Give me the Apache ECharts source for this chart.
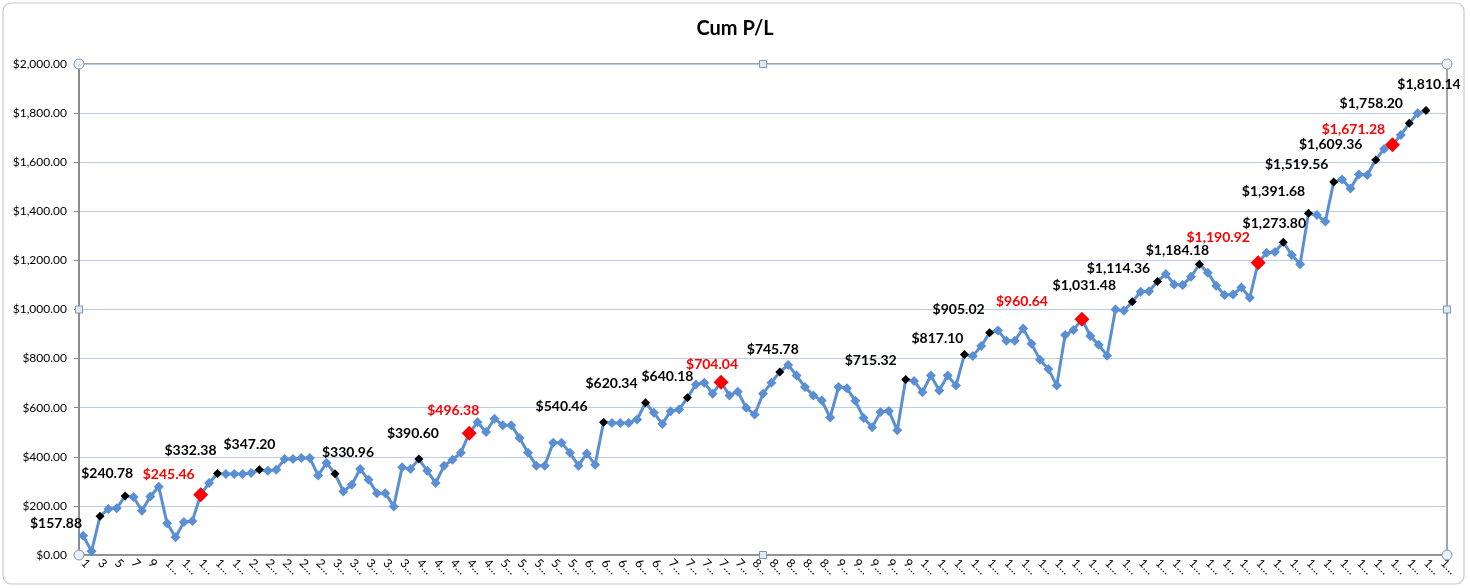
<!DOCTYPE html>
<html>
<head>
<meta charset="utf-8">
<title>Cum P/L</title>
<script src="https://cdn.jsdelivr.net/npm/echarts@6/dist/echarts.min.js"></script>
<style>
  html, body { margin: 0; padding: 0; background: #fff; }
  #chart { width: 1470px; height: 588px; }
</style>
</head>
<body>
<div id="chart"></div>
<script>
// trade numbers on the x axis (163 slots, 161 trades filled)
var categories = Array.from({ length: 163 }, function (_, i) { return String(i + 1); });

// cumulative P/L after each trade
var cumPL = [
  78, 15, 157.88, 187, 190, 240.78, 236, 180, 238, 278,
  129, 72, 134, 138, 245.46, 293, 332.38, 330, 330, 330,
  334, 347.20, 343, 347, 391, 391, 395, 395, 324, 375,
  330.96, 259, 286, 350, 307, 252, 252, 198, 357, 350,
  390.60, 343, 293, 364, 388, 416, 496.38, 541, 501, 555,
  529, 529, 477, 416, 364, 364, 457, 457, 416, 364,
  413, 368, 540.46, 538, 538, 538, 552, 620.34, 579, 534,
  586, 593, 640.18, 695, 702, 657, 704.04, 650, 665, 600,
  572, 657, 702, 745.78, 774, 731, 684, 650, 629, 560,
  684, 679, 628, 558, 520, 582, 587, 508, 715.32, 709,
  663, 731, 670, 731, 690, 817.10, 811, 851, 905.02, 914,
  873, 873, 923, 860, 795, 758, 690, 896, 916, 960.64,
  892, 856, 812, 1000, 995, 1031.48, 1072, 1074, 1114.36, 1145,
  1102, 1100, 1133, 1184.18, 1150, 1097, 1059, 1061, 1090, 1048,
  1190.92, 1231, 1234, 1273.80, 1222, 1184, 1391.68, 1385, 1358, 1519.56,
  1530, 1493, 1550, 1548, 1609.36, 1654, 1671.28, 1711, 1758.20, 1799,
  1810.14
];

// trades marked with a small black diamond and a black value label
var markedTrades = [3, 6, 17, 22, 31, 41, 63, 68, 73, 84, 99, 106, 109, 126, 129, 134, 144, 147, 150, 155, 159, 161];
// trades marked with a big red diamond and a red value label
var redTrades = [15, 47, 77, 120, 141, 157];

// where each value label centre sits relative to its marker (px)
var labelOffsets = {
  3: [-44, 7], 6: [-18, -22], 15: [-32, -20], 17: [-27, -23], 22: [-10, -25],
  31: [13, -21], 41: [-6, -26], 47: [-16, -23], 63: [-42, -16], 68: [-34, -19],
  73: [-20, -21], 77: [-9, -18], 84: [-7, -22], 99: [-35, -19], 106: [-27, -16],
  109: [-31, -23], 120: [-60, -18], 126: [-48, -16], 129: [-39, -13], 134: [-22, -14],
  141: [-40, -25], 144: [-9, -19], 147: [-35, -22], 150: [-37, -17], 155: [-45, -15],
  157: [-39, -15], 159: [-38, -20], 161: [3, -26]
};

var lineColor = '#5A8FD4';
var axisGrey = '#868686';
var handleGrey = '#8497B0';

function money(v) {
  return '$' + Number(v).toLocaleString('en-US', { minimumFractionDigits: 2, maximumFractionDigits: 2 });
}

function buildPoints() {
  return cumPL.map(function (v, i) {
    var trade = i + 1;
    var isRed = redTrades.indexOf(trade) >= 0;
    var isBlack = markedTrades.indexOf(trade) >= 0;
    if (!isRed && !isBlack) return v;
    var size = isRed ? 15 : 9;
    var off = labelOffsets[trade] || [0, -20];
    return {
      value: v,
      symbolSize: size,
      itemStyle: { color: isRed ? '#FF0000' : '#000000' },
      label: {
        show: true,
        // position is measured from the symbol box's top-left corner
        position: [size / 2 + off[0], size / 2 + off[1]],
        align: 'center',
        verticalAlign: 'middle',
        formatter: function (p) { return money(p.value); },
        color: isRed ? '#FF0000' : '#000000',
        fontFamily: 'Lato',
        fontWeight: 'bold',
        fontSize: 14
      }
    };
  });
}

var chart = echarts.init(document.getElementById('chart'), null, { renderer: 'canvas' });

var gridLeft = 79, gridTop = 64, gridRight = 1447, gridBottom = 555;
var midX = (gridLeft + gridRight) / 2, midY = (gridTop + gridBottom) / 2;

function handle(x, y) {
  return {
    type: 'circle', z: 100,
    shape: { cx: x, cy: y, r: 5 },
    style: { fill: '#EAF1F8', stroke: handleGrey, lineWidth: 1 }
  };
}
function square(x, y) {
  return {
    type: 'rect', z: 100,
    shape: { x: x - 3.5, y: y - 3.5, width: 7, height: 7 },
    style: { fill: '#DDEBF7', stroke: handleGrey, lineWidth: 1 }
  };
}

var option = {
  backgroundColor: '#fff',
  animation: false,
  title: {
    text: 'Cum P/L',
    left: 'center',
    top: 14,
    textStyle: { fontFamily: 'Lato', fontWeight: 'bold', fontSize: 20, color: '#000' }
  },
  grid: {
    left: gridLeft,
    top: gridTop,
    width: gridRight - gridLeft,
    height: gridBottom - gridTop,
    show: true,
    borderColor: axisGrey,
    borderWidth: 1.5
  },
  xAxis: {
    type: 'category',
    data: categories,
    boundaryGap: true,
    axisLine: { lineStyle: { color: axisGrey, width: 1.5 } },
    axisTick: { interval: 0, length: 5, lineStyle: { color: axisGrey } },
    axisLabel: {
      interval: 1,
      rotate: -45,
      margin: 6,
      color: '#000',
      fontFamily: 'Lato',
      fontSize: 12,
      formatter: function (v) { return v.length > 1 ? v.charAt(0) + '\u2026' : v; }
    },
    splitLine: { show: false }
  },
  yAxis: {
    type: 'value',
    min: 0,
    max: 2000,
    interval: 200,
    axisLine: { show: true, lineStyle: { color: axisGrey, width: 1.5 } },
    axisTick: { show: true, length: 5, lineStyle: { color: axisGrey } },
    axisLabel: {
      color: '#000',
      fontFamily: 'Lato',
      fontSize: 12,
      margin: 12,
      formatter: money
    },
    splitLine: { lineStyle: { color: '#B9CDE5', width: 1 } }
  },
  series: [{
    name: 'Cum P/L',
    type: 'line',
    data: buildPoints(),
    symbol: 'diamond',
    symbolSize: 10,
    showAllSymbol: true,
    lineStyle: { color: lineColor, width: 3 },
    itemStyle: { color: lineColor },
    z: 3
  }],
  graphic: [
    {
      type: 'rect', z: -1, silent: true,
      shape: { x: 3, y: 3, width: 1461, height: 581, r: 8 },
      style: { fill: '#fff', stroke: '#C8C8C8', lineWidth: 1.2 }
    },
    handle(gridLeft, gridTop), handle(gridRight, gridTop),
    handle(gridLeft, gridBottom), handle(gridRight, gridBottom),
    square(midX, gridTop), square(midX, gridBottom),
    square(gridLeft, midY), square(gridRight, midY)
  ]
};

chart.setOption(option);
</script>
</body>
</html>
